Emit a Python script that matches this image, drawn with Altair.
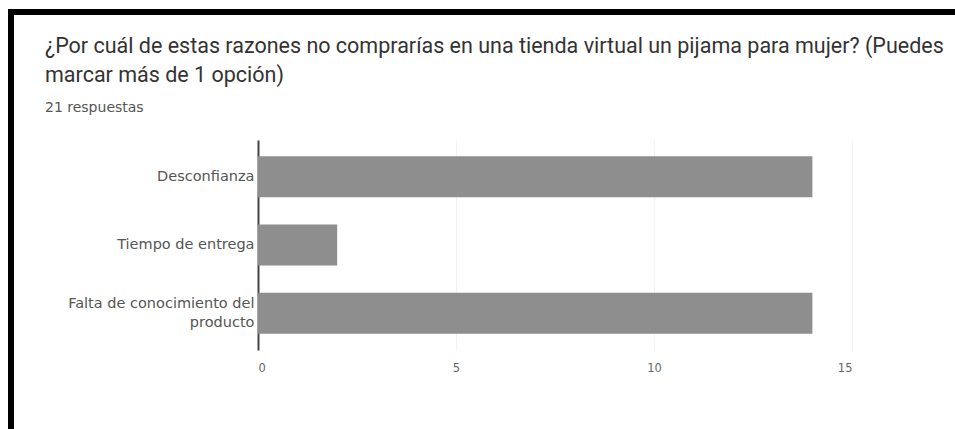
import altair as alt
import pandas as pd

categories = ["Desconfianza", "Tiempo de entrega", "Falta de conocimiento del producto"]
counts = [14, 2, 14]
x_ticks = [0, 5, 10, 15]
title_line1 = "¿Por cuál de estas razones no comprarías en una tienda virtual un pijama para mujer? (Puedes"
title_line2 = "marcar más de 1 opción)"
subtitle_text = "21 respuestas"

df = pd.DataFrame({"razon": categories, "respuestas": counts})

bars = alt.Chart(df).mark_bar(color="#8e8e8e").encode(
    x=alt.X(
        "respuestas:Q",
        scale=alt.Scale(domain=[0, 15], nice=False),
        axis=alt.Axis(
            values=x_ticks, title=None, domain=False, ticks=False,
            grid=True, gridColor="#f2f2f2", labelColor="#666666",
            labelFontSize=11.5, labelPadding=12, labelFont="DejaVu Sans",
        ),
    ),
    y=alt.Y(
        "razon:N",
        sort=categories,
        scale=alt.Scale(paddingInner=0.4, paddingOuter=0.24),
        axis=alt.Axis(
            title=None, ticks=False, domain=True, domainColor="#444444",
            domainWidth=2, labelColor="#555555", labelFontSize=14.5,
            labelFont="DejaVu Sans", labelPadding=4, labelLineHeight=19,
            labelLimit=250,
            labelOffset=alt.ExprRef("datum.label == 'Falta de conocimiento del producto' ? -9 : 0"),
            labelExpr="datum.label == 'Falta de conocimiento del producto' ? ['Falta de conocimiento del', 'producto'] : datum.label",
        ),
    ),
)

one = pd.DataFrame({"k": [0]})
top_line = alt.Chart(one).mark_rule(color="#000000", strokeWidth=6).encode(
    x=alt.value(-250), x2=alt.value(700), y=alt.value(-128)
)
left_line = alt.Chart(one).mark_rule(color="#000000", strokeWidth=6).encode(
    x=alt.value(-247), y=alt.value(-131), y2=alt.value(295)
)
t1 = alt.Chart(one).mark_text(
    text=title_line1, align="left", baseline="alphabetic",
    font="Roboto", fontSize=21.5, color="#333333",
).encode(x=alt.value(-213), y=alt.value(-87))
t2 = alt.Chart(one).mark_text(
    text=title_line2, align="left", baseline="alphabetic",
    font="Roboto", fontSize=21.5, color="#333333",
).encode(x=alt.value(-213), y=alt.value(-58))
t3 = alt.Chart(one).mark_text(
    text=subtitle_text, align="left", baseline="alphabetic",
    font="DejaVu Sans", fontSize=14, color="#555555",
).encode(x=alt.value(-213), y=alt.value(-28))

chart = alt.layer(bars, top_line, left_line, t1, t2, t3).properties(
    width=594,
    height=210,
    padding={"left": 258, "top": 140, "right": 103, "bottom": 79},
    autosize=alt.AutoSizeParams(type="none"),
    background="white",
).configure_view(stroke=None)

chart.save("out.html", embed_options={"renderer": "svg", "actions": False})
